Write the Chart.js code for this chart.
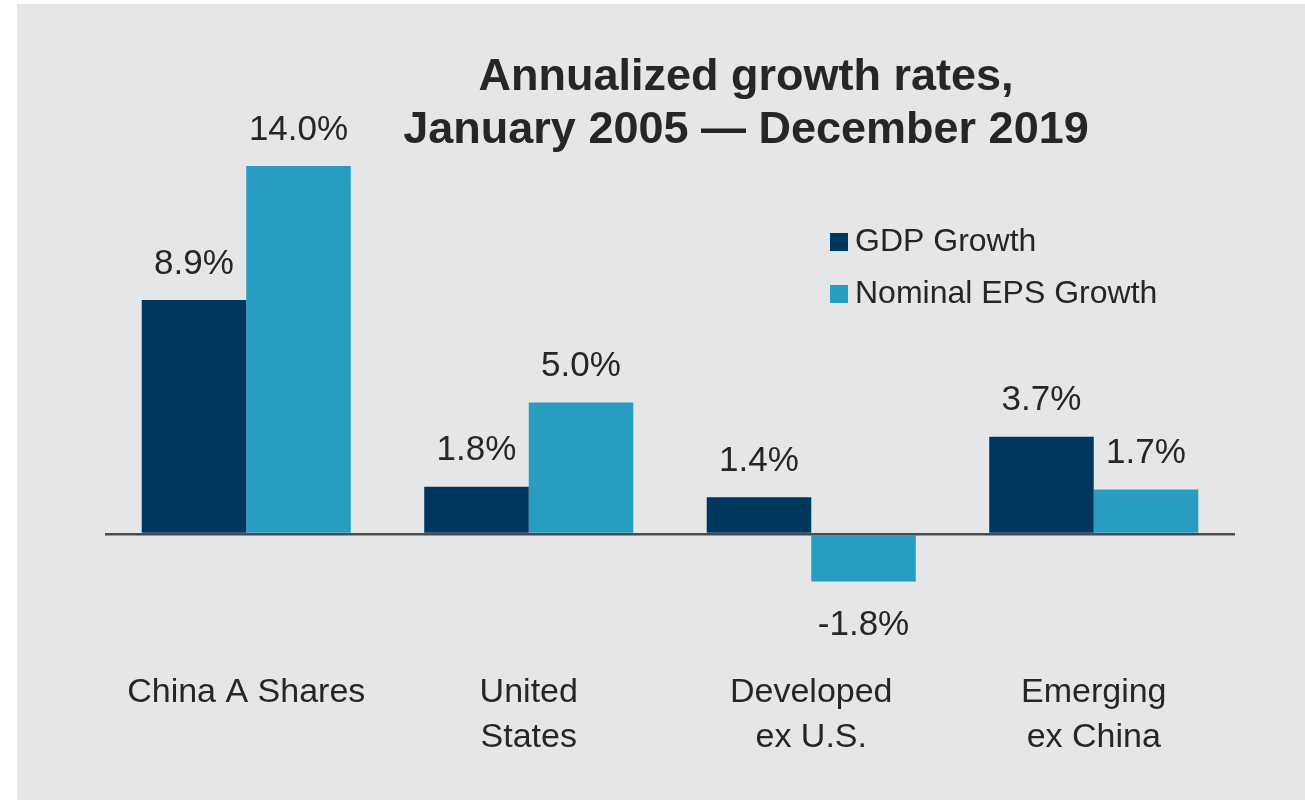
<!DOCTYPE html>
<html>
<head>
<meta charset="utf-8">
<script src="https://cdn.jsdelivr.net/npm/chart.js@4.4.1/dist/chart.umd.min.js"></script>
<style>
    html, body { margin: 0; padding: 0; background: #ffffff; }
    #panel {
        position: absolute;
        left: 17px; top: 4px;
        width: 1288px; height: 796px;
        background: #e5e6e8;
    }
</style>
</head>
<body>
<div id="panel"><canvas id="growthChart"></canvas></div>
<script>
// Chart data
const regions = [['China A Shares'], ['United', 'States'], ['Developed', 'ex U.S.'], ['Emerging', 'ex China']];
const gdpGrowth = [8.9, 1.8, 1.4, 3.7];
const epsGrowth = [14.0, 5.0, -1.8, 1.7];
const seriesNames = ['GDP Growth', 'Nominal EPS Growth'];
const titleLines = ['Annualized growth rates,', 'January 2005 \u2014 December 2019'];

const NAVY = '#00375f';
const TEAL = '#289dc1';
const TEXT = '#262626';
const FONT = '"Liberation Sans", Arial, sans-serif';

// Title, bar value labels and the legend are drawn by hand
const annotations = {
    id: 'annotations',
    afterDatasetsDraw(chart) {
        const ctx = chart.ctx;
        ctx.save();

        // title
        ctx.fillStyle = TEXT;
        ctx.font = 'bold 45px ' + FONT;
        ctx.textAlign = 'center';
        ctx.textBaseline = 'middle';
        ctx.fillText(titleLines[0], 729, 74);
        ctx.fillText(titleLines[1], 729, 127);

        // value labels
        ctx.font = '35px ' + FONT;
        chart.data.datasets.forEach((ds, i) => {
            chart.getDatasetMeta(i).data.forEach((bar, j) => {
                const v = ds.data[j];
                const y = v >= 0 ? bar.y - 36 : bar.y + 44;
                ctx.fillText(v.toFixed(1) + '%', bar.x, y);
            });
        });

        // legend
        ctx.font = '32px ' + FONT;
        ctx.textAlign = 'left';
        chart.data.datasets.forEach((ds, i) => {
            const cy = 238 + i * 52;
            ctx.fillStyle = ds.backgroundColor;
            ctx.fillRect(813, cy - 9, 18, 18);
            ctx.fillStyle = TEXT;
            ctx.fillText(ds.label, 838, cy);
        });

        ctx.restore();
    }
};

new Chart(document.getElementById('growthChart'), {
    type: 'bar',
    data: {
        labels: regions,
        datasets: [
            { label: seriesNames[0], data: gdpGrowth, backgroundColor: NAVY },
            { label: seriesNames[1], data: epsGrowth, backgroundColor: TEAL }
        ]
    },
    options: {
        responsive: true,
        maintainAspectRatio: false,
        animation: false,
        categoryPercentage: 0.74,
        barPercentage: 1.0,
        layout: { padding: { left: 88, right: 70, top: 162, bottom: 9 } },
        plugins: {
            legend: { display: false },
            title: { display: false },
            tooltip: { enabled: false }
        },
        scales: {
            x: {
                grid: { display: false, drawTicks: false },
                border: { display: false },
                ticks: {
                    color: TEXT,
                    padding: 31,
                    maxRotation: 0,
                    autoSkip: false,
                    font: { family: FONT, size: 34, lineHeight: 1.32 }
                }
            },
            y: {
                min: -4,
                max: 14,
                border: { display: false },
                grid: {
                    drawTicks: false,
                    lineWidth: 2.5,
                    color: c => c.tick && c.tick.value === 0 ? '#4a4a4c' : 'rgba(0,0,0,0)'
                },
                ticks: { display: false, stepSize: 2 }
            }
        }
    },
    plugins: [annotations]
});
</script>
</body>
</html>
